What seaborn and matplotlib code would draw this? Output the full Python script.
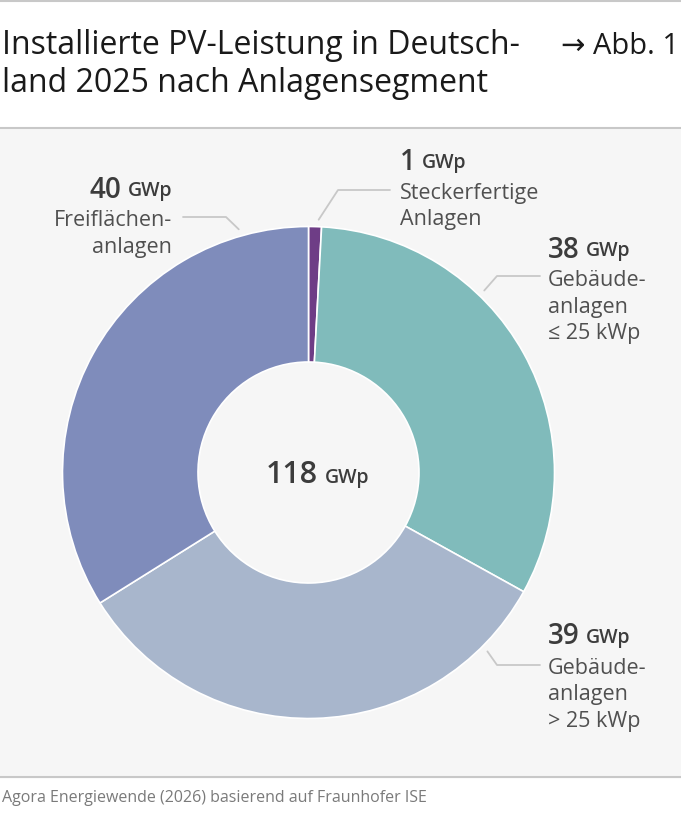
import matplotlib
matplotlib.use("Agg")
import matplotlib.pyplot as plt
import seaborn as sns
import numpy as np

# ---------------------------------------------------------
# Data
# ---------------------------------------------------------
segments = ["Steckerfertige Anlagen", "Gebäudeanlagen ≤ 25 kWp",
            "Gebäudeanlagen > 25 kWp", "Freiflächenanlagen"]
values_gwp = [1, 38, 39, 40]
total_gwp = 118
label_lines = [
    ["Steckerfertige", "Anlagen"],
    ["Gebäude-", "anlagen", "≤ 25 kWp"],
    ["Gebäude-", "anlagen", "> 25 kWp"],
    ["Freiflächen-", "anlagen"],
]
colors = ["#6e3d86", "#80bbbb", "#a8b6cc", "#7f8cbb"]

title_lines = ["Installierte PV-Leistung in Deutsch-", "land 2025 nach Anlagensegment"]
source = "Agora Energiewende (2026) basierend auf Fraunhofer ISE"

# ---------------------------------------------------------
# Figure in pixel coordinates (y measured from top)
# ---------------------------------------------------------
sns.set_style("white")
plt.rcParams["font.family"] = ["Open Sans", "DejaVu Sans"]

W, H = 681, 825
fig = plt.figure(figsize=(W / 100, H / 100), dpi=100)
ax = fig.add_axes([0, 0, 1, 1])
ax.set_xlim(0, W)
ax.set_ylim(0, H)
ax.set_aspect("equal")
ax.axis("off")


def Y(y):
    return H - y


text_dark = "#3c3c3c"
line_gray = "#c8c8c8"

# panel + rules
ax.add_patch(plt.Rectangle((0, Y(777)), W, 777 - 129, color="#f6f6f6", zorder=0))
for yy in [1, 128, 777]:
    ax.plot([0, W], [Y(yy), Y(yy)], color=line_gray, lw=1.5, zorder=1)

# title
for i, t in enumerate(title_lines):
    ax.text(2, Y(46 + 38 * i), t, fontsize=23, color="#1a1a1a", va="center", ha="left")
ax.text(679, Y(46), "→ Abb. 1", fontsize=21, color="#1a1a1a", va="center", ha="right")

# source
ax.text(2, Y(798), source, fontsize=11.5, color="#7a7a7a", va="center", ha="left")

# ---------------------------------------------------------
# Donut
# ---------------------------------------------------------
cx, cy, R, r_in = 308.5, 472.5, 246, 110.5
wedges, _ = ax.pie(values_gwp, colors=colors, startangle=90, counterclock=False,
                   center=(cx, Y(cy)), radius=R,
                   wedgeprops=dict(width=R - r_in, edgecolor="white", linewidth=1.2))
ax.set_xlim(0, W)
ax.set_ylim(0, H)

# centre total
ax.text(318, Y(475), f"{total_gwp}", fontsize=22, color=text_dark, ha="right", va="center",
        fontweight="semibold")
ax.text(325, Y(478), "GWp", fontsize=14, color=text_dark, ha="left", va="center",
        fontweight="semibold")

# ---------------------------------------------------------
# Labels with leader lines
# (angle on ring clockwise from top, elbow, end, text anchor, alignment)
# ---------------------------------------------------------
label_setup = [
    dict(ang=2.3, elbow=(338, 190), end=(390, 190), tx=400, ty=162, ha="left"),
    dict(ang=44, elbow=(497, 276), end=(540, 276), tx=548, ty=250, ha="left"),
    dict(ang=135, elbow=(497, 665), end=(540, 665), tx=548, ty=637, ha="left"),
    dict(ang=344, elbow=(226, 217), end=(183, 217), tx=172, ty=190, ha="right"),
]
num_size, unit_size, body_size = 20, 14, 15.5
for val, lines, s in zip(values_gwp, label_lines, label_setup):
    a = np.deg2rad(s["ang"])
    sx = cx + 253 * np.sin(a)
    sy = cy - 253 * np.cos(a)
    ax.plot([sx, s["elbow"][0], s["end"][0]],
            [Y(sy), Y(s["elbow"][1]), Y(s["end"][1])],
            color=line_gray, lw=1.3, zorder=3)
    num = f"{val}"
    if s["ha"] == "left":
        t = ax.text(s["tx"], Y(s["ty"]), num, fontsize=num_size, color=text_dark,
                    ha="left", va="center", fontweight="semibold")
        fig.canvas.draw()
        bb = t.get_window_extent()
        ax.text(bb.x1 + 6, Y(s["ty"] + 1), "GWp", fontsize=unit_size, color=text_dark,
                ha="left", va="center", fontweight="semibold")
    else:
        t = ax.text(s["tx"], Y(s["ty"] + 1), "GWp", fontsize=unit_size, color=text_dark,
                    ha="right", va="center", fontweight="semibold")
        fig.canvas.draw()
        bb = t.get_window_extent()
        ax.text(bb.x0 - 6, Y(s["ty"]), num, fontsize=num_size, color=text_dark,
                ha="right", va="center", fontweight="semibold")
    for j, ln in enumerate(lines):
        ax.text(s["tx"], Y(s["ty"] + 31 + 26.5 * j), ln, fontsize=body_size, color="#505050",
                ha=s["ha"], va="center")

fig.savefig("out.png", dpi=100)
